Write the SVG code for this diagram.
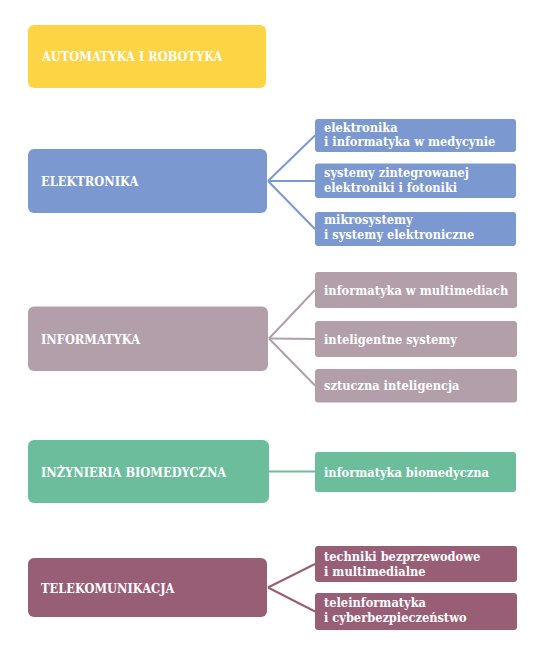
<svg xmlns="http://www.w3.org/2000/svg" width="550" height="659" viewBox="0 0 550 659">
<style>
  text { font-family: "DejaVu Serif", "Liberation Serif", serif; font-stretch: condensed; font-weight: bold; fill: #ffffff; }
  .main { font-size: 12.7px; }
  .sub { font-size: 12.7px; }
  .conn line { stroke-width: 2; fill: none; }
  .yel { fill: #FDD443; }
  .blu { fill: #7B98D0; }
  .mau { fill: #B39FAA; }
  .grn { fill: #6BBD9C; }
  .plm { fill: #985E75; }
</style>
<rect width="550" height="659" fill="#ffffff"/>
<g id="connectors" class="conn">
  <line x1="268" y1="181" x2="315" y2="135.5" stroke="#7B98D0"/>
  <line x1="268" y1="181" x2="315" y2="181" stroke="#7B98D0"/>
  <line x1="268" y1="181" x2="315" y2="229" stroke="#7B98D0"/>
  <line x1="269" y1="338.5" x2="315" y2="290" stroke="#B39FAA"/>
  <line x1="269" y1="338.5" x2="315" y2="339" stroke="#B39FAA"/>
  <line x1="269" y1="338.5" x2="315" y2="385.5" stroke="#B39FAA"/>
  <line x1="269" y1="471.5" x2="315" y2="471.5" stroke="#6BBD9C"/>
  <line x1="268" y1="587.5" x2="315" y2="564" stroke="#985E75"/>
  <line x1="268" y1="587.5" x2="315" y2="611.5" stroke="#985E75"/>
</g>
<g id="automatyka">
  <rect class="yel" x="28" y="25" width="238" height="63" rx="6"/>
  <text class="main" x="42" y="60.5">AUTOMATYKA I ROBOTYKA</text>
</g>
<g id="elektronika">
  <rect class="blu" x="28" y="149" width="239" height="64" rx="6"/>
  <text class="main" x="41" y="185.5">ELEKTRONIKA</text>
</g>
<g id="elektronika-1">
  <rect class="blu" x="315" y="119" width="201" height="33" rx="3"/>
  <text class="sub" x="324" y="132">elektronika</text>
  <text class="sub" x="324" y="146">i informatyka w medycynie</text>
</g>
<g id="elektronika-2">
  <rect class="blu" x="315" y="163.5" width="201" height="34.5" rx="3"/>
  <text class="sub" x="324" y="177">systemy zintegrowanej</text>
  <text class="sub" x="324" y="192">elektroniki i fotoniki</text>
</g>
<g id="elektronika-3">
  <rect class="blu" x="315" y="212" width="201" height="34" rx="3"/>
  <text class="sub" x="324" y="224">mikrosystemy</text>
  <text class="sub" x="324" y="239">i systemy elektroniczne</text>
</g>
<g id="informatyka">
  <rect class="mau" x="28" y="306.5" width="240" height="64.5" rx="6"/>
  <text class="main" x="41" y="343.5">INFORMATYKA</text>
</g>
<g id="informatyka-1">
  <rect class="mau" x="315" y="272" width="202" height="36" rx="3"/>
  <text class="sub" x="324" y="294.5">informatyka w multimediach</text>
</g>
<g id="informatyka-2">
  <rect class="mau" x="315" y="321" width="202" height="36" rx="3"/>
  <text class="sub" x="324" y="343.5">inteligentne systemy</text>
</g>
<g id="informatyka-3">
  <rect class="mau" x="315" y="369" width="202" height="33.5" rx="3"/>
  <text class="sub" x="324" y="390">sztuczna inteligencja</text>
</g>
<g id="inzynieria">
  <rect class="grn" x="28" y="440" width="241" height="63" rx="6"/>
  <text class="main" x="41" y="476.5">INŻYNIERIA BIOMEDYCZNA</text>
</g>
<g id="inzynieria-1">
  <rect class="grn" x="315" y="452" width="201" height="40" rx="3"/>
  <text class="sub" x="324" y="476.5">informatyka biomedyczna</text>
</g>
<g id="telekomunikacja">
  <rect class="plm" x="28" y="558" width="239" height="59" rx="6"/>
  <text class="main" x="41" y="592.5">TELEKOMUNIKACJA</text>
</g>
<g id="telekomunikacja-1">
  <rect class="plm" x="315" y="546" width="202" height="36" rx="3"/>
  <text class="sub" x="324" y="561">techniki bezprzewodowe</text>
  <text class="sub" x="324" y="575.5">i multimedialne</text>
</g>
<g id="telekomunikacja-2">
  <rect class="plm" x="315" y="593" width="202" height="37" rx="3"/>
  <text class="sub" x="324" y="606.5">teleinformatyka</text>
  <text class="sub" x="324" y="621.5">i cyberbezpieczeństwo</text>
</g>
</svg>
